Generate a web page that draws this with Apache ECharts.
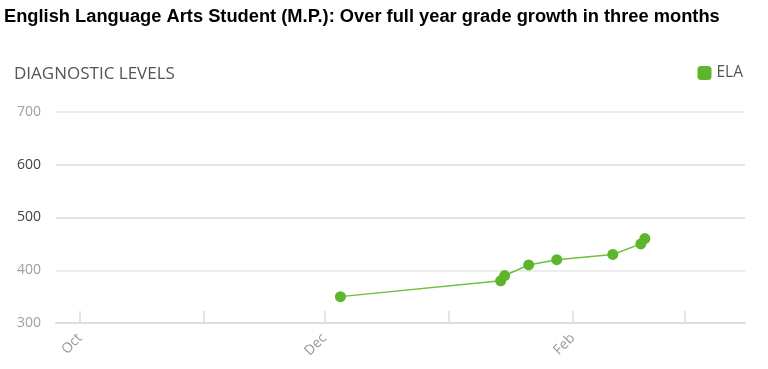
<!DOCTYPE html>
<html>
<head>
<meta charset="utf-8">
<script src="https://cdn.jsdelivr.net/npm/echarts@6/dist/echarts.min.js"></script>
<style>
html,body{margin:0;padding:0;background:#fff;}
#c{width:768px;height:369px;}
</style>
</head>
<body>
<div id="c"></div>
<script>
// Data
const titleText = 'English Language Arts Student (M.P.): Over full year grade growth in three months';
const yAxisTitle = 'DIAGNOSTIC LEVELS';
const seriesName = 'ELA';
const dates = ['2018-12-05','2019-01-14','2019-01-15','2019-01-21','2019-01-28','2019-02-11','2019-02-18','2019-02-19'];
const values = [350, 380, 390, 410, 420, 430, 450, 460];
const tickMonths = ['2018-10-01','2018-11-01','2018-12-01','2019-01-01','2019-02-01','2019-03-01'];
const labelMonths = ['2018-10-01','2018-12-01','2019-02-01'];
const monthNames = ['Jan','Feb','Mar','Apr','May','Jun','Jul','Aug','Sep','Oct','Nov','Dec'];
const yTicks = [300, 400, 500, 600, 700];
const xMin = '2018-09-25';
const xMax = '2019-03-16';

function ts(s){ const p = s.split('-').map(Number); return Date.UTC(p[0], p[1]-1, p[2]); }

const chart = echarts.init(document.getElementById('c'));
const green = '#5cb52a';
chart.setOption({
  animation: false,
  title: [{
    text: titleText,
    left: 4, top: 8, padding: 0,
    textStyle: {fontFamily: 'Liberation Sans, Arial, sans-serif', fontWeight: 'bold', fontSize: 18.3, color: '#000'}
  }, {
    text: yAxisTitle,
    left: 14, top: 66, padding: 0,
    textStyle: {fontFamily: 'Open Sans, sans-serif', fontWeight: 'normal', fontSize: 17, color: '#555'}
  }],
  legend: {
    right: 20, top: 60,
    icon: 'roundRect',
    itemWidth: 14, itemHeight: 14, itemGap: 6,
    textStyle: {fontFamily: 'Open Sans, sans-serif', fontSize: 15.5, color: '#555'},
    data: [seriesName]
  },
  grid: {left: 56, right: 23, top: 112, bottom: 46},
  xAxis: {
    type: 'value',
    min: ts(xMin), max: ts(xMax),
    axisLine: {show: true, lineStyle: {color: '#ddd', width: 2}},
    axisTick: {show: true, inside: true, length: 12, lineStyle: {color: '#ddd', width: 1.5},
      customValues: tickMonths.map(ts)},
    axisLabel: {
      customValues: labelMonths.map(ts),
      rotate: 45, margin: 13,
      fontFamily: 'Open Sans, sans-serif', fontSize: 14, color: '#999',
      formatter: function(v){ return monthNames[new Date(v).getUTCMonth()]; }
    },
    splitLine: {show: false}
  },
  yAxis: {
    type: 'value', min: yTicks[0], max: yTicks[yTicks.length-1], interval: 100,
    axisLine: {show: false}, axisTick: {show: false},
    axisLabel: {
      margin: 15, fontFamily: 'Open Sans, sans-serif', fontSize: 14,
      formatter: function(v){ return (v === 500 || v === 600) ? '{d|' + v + '}' : '{l|' + v + '}'; },
      rich: {d: {color: '#444', fontFamily: 'Open Sans, sans-serif', fontSize: 14}, l: {color: '#a0a0a0', fontFamily: 'Open Sans, sans-serif', fontSize: 14}}
    },
    splitLine: {lineStyle: {color: ['#dedede', '#e6e6e6', '#d8d8d8', '#dcdcdc', '#e6e6e6'], width: 1.5}}
  },
  series: [{
    name: seriesName,
    type: 'line',
    data: dates.map((d, i) => [ts(d), values[i]]),
    symbol: 'circle', symbolSize: 11,
    itemStyle: {color: green},
    lineStyle: {color: '#6cc03c', width: 1.5}
  }]
});
</script>
</body>
</html>
